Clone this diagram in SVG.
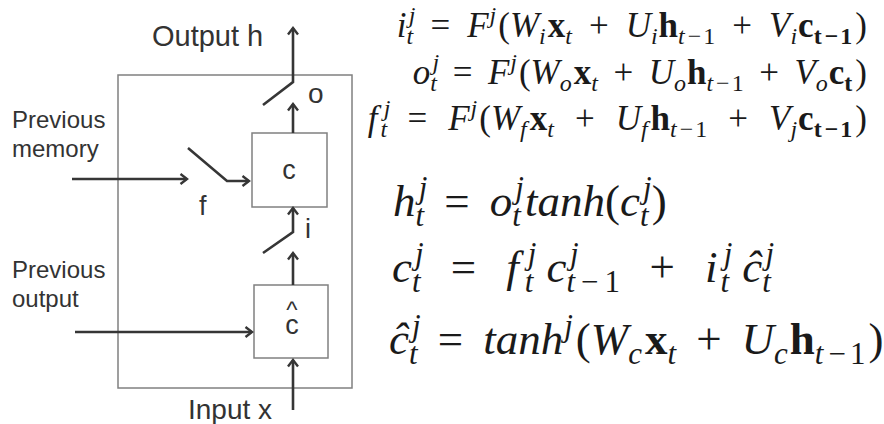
<svg xmlns="http://www.w3.org/2000/svg" width="884" height="424" viewBox="0 0 884 424">
<style>
.bg{fill:#ffffff}
.box{fill:none;stroke:#808080;stroke-width:1.5}
.ln{fill:none;stroke:#363636;stroke-width:2.6;stroke-linejoin:miter}
.lb{font-family:"Liberation Sans",Arial,sans-serif;fill:#333333}
.eq{font-family:"Liberation Serif","Times New Roman",serif;font-style:italic;fill:#1a1a1a}
.e1{font-size:35px}
.e2{font-size:45px}
.s1{font-size:24px}
.s2{font-size:31px}
.up{font-style:normal}
.bf{font-style:normal;font-weight:bold}
</style>
<defs>
<marker id="ah" markerWidth="14" markerHeight="14" refX="10" refY="6" orient="auto" markerUnits="userSpaceOnUse">
<path d="M3.5,1 L10,6 L3.5,11" fill="none" stroke="#363636" stroke-width="2.4"/>
</marker>
</defs>
<rect class="bg" x="0" y="0" width="884" height="424"/>

<g id="cell">
<rect class="box" x="118" y="75" width="234" height="313"/>
</g>

<g id="node-c">
<rect class="box" x="252" y="133" width="75" height="74"/>
<text class="lb" x="289" y="179" font-size="27" text-anchor="middle">c</text>
</g>

<g id="node-chat">
<rect class="box" x="254" y="285" width="74" height="73"/>
<text class="lb" x="292" y="318" font-size="24" text-anchor="middle">^</text>
<text class="lb" x="292" y="334" font-size="27" text-anchor="middle">c</text>
</g>

<g id="labels">
<text class="lb" x="152" y="46" font-size="29">Output h</text>
<text class="lb" x="308" y="103" font-size="28">o</text>
<text class="lb" x="12" y="128" font-size="24">Previous</text>
<text class="lb" x="12" y="157" font-size="24">memory</text>
<text class="lb" x="199" y="215" font-size="27">f</text>
<text class="lb" x="305" y="238" font-size="27">i</text>
<text class="lb" x="12" y="278" font-size="24">Previous</text>
<text class="lb" x="12" y="307" font-size="24">output</text>
<text class="lb" x="188" y="419" font-size="28">Input x</text>
</g>

<g id="connectors">
<path class="ln" d="M263,105 L293,82 L293,28" marker-end="url(#ah)"/>
<path class="ln" d="M293,133 L293,104" marker-end="url(#ah)"/>
<path class="ln" d="M72,179 L187,179" marker-end="url(#ah)"/>
<path class="ln" d="M188,148 L227,181 L249,181" marker-end="url(#ah)"/>
<path class="ln" d="M263,253 L293,232 L293,208" marker-end="url(#ah)"/>
<path class="ln" d="M293,285 L293,253" marker-end="url(#ah)"/>
<path class="ln" d="M75,332 L252,332" marker-end="url(#ah)"/>
<path class="ln" d="M293,410 L293,360" marker-end="url(#ah)"/>
</g>

<g id="equations">
<text class="eq e1" x="867" y="37" text-anchor="end">i<tspan class="s1" dy="7">t</tspan><tspan class="s1" dx="-4.5" dy="-21">j</tspan><tspan class="up" dx="15" dy="14">=</tspan><tspan dx="17">F</tspan><tspan class="s1" dx="1" dy="-14">j</tspan><tspan class="up" dx="2" dy="14">(</tspan>W<tspan class="s1" dy="7">i</tspan><tspan class="bf" dx="2" dy="-7">x</tspan><tspan class="s1" dy="7">t</tspan><tspan class="up" dx="17" dy="-7">+</tspan><tspan dx="17">U</tspan><tspan class="s1" dy="7">i</tspan><tspan class="bf" dx="1" dy="-7">h</tspan><tspan class="s1" dy="7">t<tspan class="up" dx="3">−</tspan><tspan class="up" dx="2">1</tspan></tspan><tspan class="up" dx="17" dy="-7">+</tspan><tspan dx="17">V</tspan><tspan class="s1" dy="7">i</tspan><tspan class="bf" dx="1" dy="-7">c</tspan><tspan class="bf s1" dy="7">t<tspan dx="3">−</tspan><tspan dx="2">1</tspan></tspan><tspan class="up" dx="3" dy="-7">)</tspan></text>

<text class="eq e1" x="867" y="84" text-anchor="end">o<tspan class="s1" dy="7">t</tspan><tspan class="s1" dx="-4.5" dy="-21">j</tspan><tspan class="up" dx="13.5" dy="14">=</tspan><tspan dx="15.5">F</tspan><tspan class="s1" dx="1" dy="-14">j</tspan><tspan class="up" dx="2" dy="14">(</tspan>W<tspan class="s1" dy="7">o</tspan><tspan class="bf" dx="2" dy="-7">x</tspan><tspan class="s1" dy="7">t</tspan><tspan class="up" dx="15.5" dy="-7">+</tspan><tspan dx="15.5">U</tspan><tspan class="s1" dy="7">o</tspan><tspan class="bf" dx="1" dy="-7">h</tspan><tspan class="s1" dy="7">t<tspan class="up" dx="3">−</tspan><tspan class="up" dx="2">1</tspan></tspan><tspan class="up" dx="15.5" dy="-7">+</tspan><tspan dx="15.5">V</tspan><tspan class="s1" dy="7">o</tspan><tspan class="bf" dx="1" dy="-7">c</tspan><tspan class="bf s1" dy="7">t</tspan><tspan class="up" dx="3" dy="-7">)</tspan></text>

<text class="eq e1" x="867" y="130" text-anchor="end">f<tspan class="s1" dx="3" dy="7">t</tspan><tspan class="s1" dx="-3.5" dy="-21">j</tspan><tspan class="up" dx="17" dy="14">=</tspan><tspan dx="21">F</tspan><tspan class="s1" dx="1" dy="-14">j</tspan><tspan class="up" dx="2" dy="14">(</tspan>W<tspan class="s1" dy="7">f</tspan><tspan class="bf" dx="3" dy="-7">x</tspan><tspan class="s1" dy="7">t</tspan><tspan class="up" dx="21" dy="-7">+</tspan><tspan dx="21">U</tspan><tspan class="s1" dy="7">f</tspan><tspan class="bf" dx="3" dy="-7">h</tspan><tspan class="s1" dy="7">t<tspan class="up" dx="3">−</tspan><tspan class="up" dx="2">1</tspan></tspan><tspan class="up" dx="21" dy="-7">+</tspan><tspan dx="21">V</tspan><tspan class="s1" dy="7">j</tspan><tspan class="bf" dx="1" dy="-7">c</tspan><tspan class="bf s1" dy="7">t<tspan dx="3">−</tspan><tspan dx="2">1</tspan></tspan><tspan class="up" dx="3" dy="-7">)</tspan></text>

<text class="eq e2" x="393" y="216">h<tspan class="s2" dy="10">t</tspan><tspan class="s2" dx="-5.5" dy="-28">j</tspan><tspan class="up" dx="17" dy="18">=</tspan><tspan dx="20">o</tspan><tspan class="s2" dy="10">t</tspan><tspan class="s2" dx="-5.5" dy="-28">j</tspan><tspan dx="1" dy="18">tanh</tspan><tspan class="up">(</tspan>c<tspan class="s2" dy="10">t</tspan><tspan class="s2" dx="-5.5" dy="-28">j</tspan><tspan class="up" dx="0" dy="18">)</tspan></text>

<text class="eq e2" x="392" y="282">c<tspan class="s2" dy="10">t</tspan><tspan class="s2" dx="-5.5" dy="-28">j</tspan><tspan class="up" dx="27" dy="18">=</tspan><tspan dx="30">f</tspan><tspan class="s2" dx="6" dy="10">t</tspan><tspan class="s2" dx="-5.5" dy="-28">j</tspan><tspan dx="10" dy="18">c</tspan><tspan class="s2" dy="10">t<tspan class="up" dx="6">−</tspan><tspan class="up" dx="6">1</tspan></tspan><tspan class="s2" dx="-50" dy="-28">j</tspan><tspan class="up" dx="71" dy="18">+</tspan><tspan dx="30">i</tspan><tspan class="s2" dx="3" dy="10">t</tspan><tspan class="s2" dx="-5.5" dy="-28">j</tspan><tspan dx="10" dy="18">ĉ</tspan><tspan class="s2" dy="10">t</tspan><tspan class="s2" dx="-5.5" dy="-28">j</tspan></text>

<text class="eq e2" x="389" y="354">ĉ<tspan class="s2" dy="10">t</tspan><tspan class="s2" dx="-5.5" dy="-28">j</tspan><tspan class="up" dx="17" dy="18">=</tspan><tspan dx="20">tanh</tspan><tspan class="s2" dx="1" dy="-18">j</tspan><tspan class="up" dx="3" dy="18">(</tspan>W<tspan class="s2" dy="10">c</tspan><tspan class="bf" dx="3" dy="-10">x</tspan><tspan class="s2" dy="10">t</tspan><tspan class="up" dx="20" dy="-10">+</tspan><tspan dx="20">U</tspan><tspan class="s2" dy="10">c</tspan><tspan class="bf" dx="2" dy="-10">h</tspan><tspan class="s2" dy="10">t<tspan class="up" dx="5">−</tspan><tspan class="up" dx="4">1</tspan></tspan><tspan class="up" dx="3" dy="-10">)</tspan></text>
</g>
</svg>
